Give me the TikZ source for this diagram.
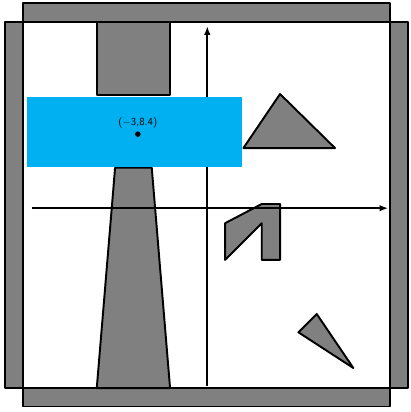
\documentclass[tikz,border=0pt]{standalone}
\usepackage{tikz}
\usetikzlibrary{arrows.meta}

\definecolor{zoneblue}{RGB}{0,176,240}

\begin{document}
\begin{tikzpicture}[
				x=0.6cm, y=0.6cm,
				>={Latex[length=2.8mm, width=2.1mm]},
				font=\sffamily,
				obstacle/.style={fill=black!50, draw=black, line width=1.8pt, line join=round},
				axis/.style={->, line width=1.5pt},
				zone/.style={fill=zoneblue, draw=none}
				]
				\useasboundingbox (-11.28,-11.3) rectangle (11.14,11.18);
				
				% Walls
				\draw[obstacle] (-10,10) rectangle (10,11);
				\draw[obstacle] (-10,-11) rectangle (10,-10);
				\draw[obstacle] (-11,-10) rectangle (-10,10);
				\draw[obstacle] (10,-10) rectangle (11,10);
				
				% Obstacles
				\draw[obstacle] (-6,6) rectangle (-2,10);
				\draw[obstacle] (-6,-10) -- (-2,-10) -- (-3,2.03) -- (-5,2.03) -- cycle;
				\draw[obstacle] (2,3.1) -- (4,6.05) -- (7,3.1) -- cycle;
				\draw[obstacle] (1,-1) -- (3,0.05) -- (4,0.05) -- (4,-3) -- (3,-3) -- (3,-1) -- (1,-3) -- cycle;
				\draw[obstacle] (5,-6.95) -- (6,-5.95) -- (8,-8.9) -- cycle;
				
				% Axes
				\coordinate (xstart) at (-9.55,-0.18);
				\coordinate (xend) at (9.9,-0.18);
				\coordinate (ystart) at (0.03,-9.87);
				\coordinate (yend) at (0.03,9.75);
				\draw[axis] (xstart) -- (xend);
				\draw[axis] (ystart) -- (yend);
				
				% Target zone
				\fill[zone] (-9.82,2.09) rectangle (1.95,5.91);
				\fill (-3.76,3.86) circle (0.15);
				\node (target) at (-3.76,4.5) {($-$3,8.4)};
				
			\end{tikzpicture}
\end{document}
